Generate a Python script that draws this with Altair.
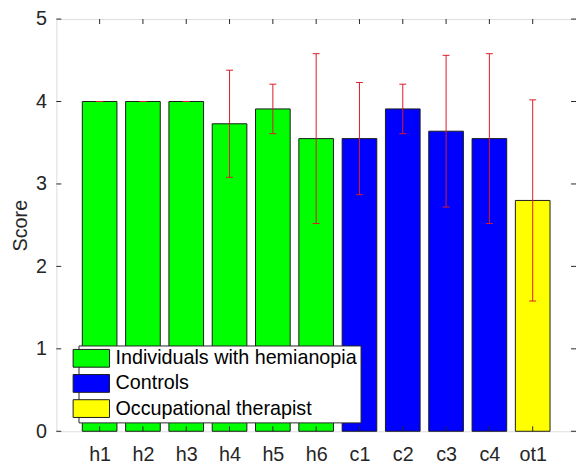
import altair as alt
import pandas as pd

labels = ["h1", "h2", "h3", "h4", "h5", "h6", "c1", "c2", "c3", "c4", "ot1"]
scores = [4.0, 4.0, 4.0, 3.73, 3.91, 3.55, 3.55, 3.91, 3.64, 3.55, 2.80]
errors = [0.0, 0.0, 0.0, 0.65, 0.30, 1.03, 0.68, 0.30, 0.92, 1.03, 1.22]
groups = ["Individuals with hemianopia"] * 6 + ["Controls"] * 4 + ["Occupational therapist"]
group_order = ["Individuals with hemianopia", "Controls", "Occupational therapist"]
group_colors = ["#00FF00", "#0000FF", "#FFFF00"]
y_ticks = [0, 1, 2, 3, 4, 5]

W, H = 527, 418
FONT = "Liberation Sans"
TXT = "#262626"
RED = "#dd1a28"
FS = 20

df = pd.DataFrame({
    "label": labels,
    "score": scores,
    "err": errors,
    "group": groups,
    "pos": list(range(1, len(labels) + 1)),
})
yt = pd.DataFrame({"v": y_ticks})

label_expr = "[" + ",".join("'%s'" % l for l in labels) + "][datum.value - 1]"

xscale = alt.Scale(domain=[0, len(labels) + 1], nice=False, zero=False)
yscale = alt.Scale(domain=[0, 5], nice=False)

xaxis = alt.Axis(
    values=list(range(1, len(labels) + 1)), labelExpr=label_expr,
    title="", ticks=False, tickSize=0, domain=False, grid=False,
    labelFontSize=FS, labelPadding=14, labelColor=TXT, labelFont=FONT)
yaxis = alt.Axis(
    values=y_ticks, title="Score", ticks=False, tickSize=0, domain=False,
    grid=False, labelFontSize=FS, labelPadding=10, labelColor=TXT,
    labelFont=FONT, titleFontSize=FS, titleFontWeight="normal",
    titleColor=TXT, titleFont=FONT, titlePadding=5)

base = alt.Chart(df).transform_calculate(
    lo="datum.pos - 0.4",
    hi="datum.pos + 0.4",
    up="datum.score + datum.err",
    dn="datum.score - datum.err",
    clo="datum.pos - 0.08",
    chi="datum.pos + 0.08",
)

bars = base.mark_bar(stroke="#1a1a1a", strokeWidth=1, opacity=1).encode(
    x=alt.X("lo:Q", scale=xscale, axis=xaxis),
    x2="hi:Q",
    y=alt.Y("score:Q", scale=yscale, axis=yaxis),
    y2=alt.datum(0),
    color=alt.Color("group:N", scale=alt.Scale(domain=group_order, range=group_colors),
                    legend=alt.Legend(
                        title=None, orient="none", legendX=22.5, legendY=331,
                        fillColor="white", strokeColor=TXT, padding=3,
                        symbolType="M-2.05,-1H2.05V1H-2.05Z", symbolSize=324,
                        symbolStrokeColor="#1a1a1a", symbolStrokeWidth=1,
                        symbolOpacity=1, labelFontSize=FS, labelFont=FONT,
                        labelColor="black", labelOffset=14.5, rowPadding=3.5,
                        labelLimit=400)),
)

err_line = base.mark_rule(color=RED, strokeWidth=1).encode(
    x=alt.X("pos:Q", scale=xscale, axis=xaxis),
    y=alt.Y("dn:Q", scale=yscale, axis=yaxis),
    y2="up:Q",
)
cap_up = base.mark_rule(color=RED, strokeWidth=1).encode(
    x=alt.X("clo:Q", scale=xscale, axis=xaxis), x2="chi:Q",
    y=alt.Y("up:Q", scale=yscale, axis=yaxis),
)
cap_dn = base.mark_rule(color=RED, strokeWidth=1).encode(
    x=alt.X("clo:Q", scale=xscale, axis=xaxis), x2="chi:Q",
    y=alt.Y("dn:Q", scale=yscale, axis=yaxis),
)

tick_bottom = alt.Chart(df).mark_rule(color=TXT, strokeWidth=1).encode(
    x=alt.X("pos:Q", scale=xscale, axis=xaxis), y=alt.value(H), y2=alt.value(H - 5))
tick_top = alt.Chart(df).mark_rule(color=TXT, strokeWidth=1).encode(
    x=alt.X("pos:Q", scale=xscale, axis=xaxis), y=alt.value(0), y2=alt.value(5))
tick_left = alt.Chart(yt).mark_rule(color=TXT, strokeWidth=1).encode(
    y=alt.Y("v:Q", scale=yscale, axis=yaxis), x=alt.value(0), x2=alt.value(5))
tick_right = alt.Chart(yt).mark_rule(color=TXT, strokeWidth=1).encode(
    y=alt.Y("v:Q", scale=yscale, axis=yaxis), x=alt.value(W), x2=alt.value(W - 5))

chart = alt.layer(
    bars, err_line, cap_up, cap_dn, tick_bottom, tick_top, tick_left, tick_right
).properties(
    width=W, height=H,
    autosize=alt.AutoSizeParams(type="none"),
    padding={"left": 49, "top": 8, "right": 0, "bottom": 33},
).configure_view(
    stroke=TXT, strokeWidth=1
).configure(
    font=FONT, background="white"
)

chart.save("out.html", embed_options={"renderer": "svg", "actions": False})
